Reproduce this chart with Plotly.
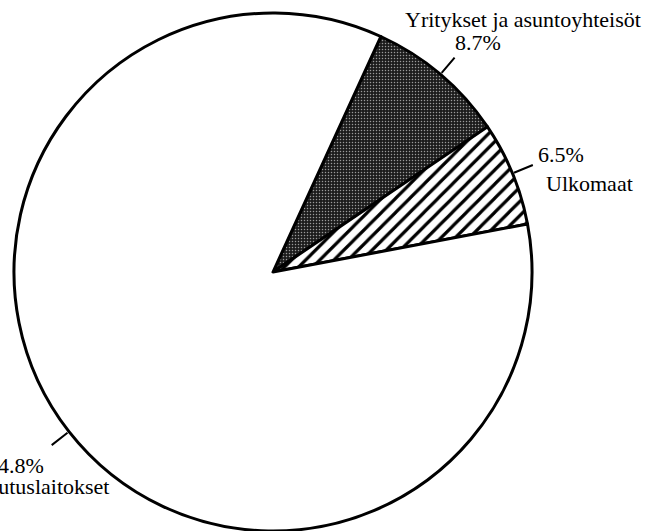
"""
Rahoitus sektoreittain - piirakkakaavio
"""
import math
import plotly.graph_objects as go

# Sektorit ja osuudet (%)
labels = ['Yritykset ja asuntoyhteisöt', 'Ulkomaat', 'Vakuutuslaitokset']
values = [8.7, 6.5, 84.8]

W, H = 654, 531
FONT = dict(family='Liberation Serif', size=22, color='black')

# piirakan paikka pikseleinä (keskipiste ja säde)
CX, CY, R = 273, 272, 259
ROT = 24.6


def px(x, y):
    """pikselit -> paper-koordinaatit"""
    return x / W, 1 - y / H


fig = go.Figure()

fig.add_trace(go.Pie(
    labels=labels,
    values=values,
    sort=False,
    direction='clockwise',
    rotation=ROT,
    textinfo='none',
    hoverinfo='label+percent',
    marker=dict(
        colors=['#2a2a2a', 'white', 'white'],
        line=dict(color='black', width=3),
        pattern=dict(
            shape=['.', '/', ''],
            bgcolor=['#1c1c1c', 'white', 'white'],
            fgcolor=['#9a9a9a', 'black', 'black'],
            size=[3, 10, 8],
            solidity=[0.2, 0.32, 0.3],
            fillmode='replace',
        ),
    ),
    domain=dict(x=[(CX - R) / W, (CX + R) / W],
                y=[1 - (CY + R) / H, 1 - (CY - R) / H]),
    showlegend=False,
))

# osoitinviivat viipaleiden keskikulmiin
total = sum(values)
start = ROT
mids = []
for v in values:
    ang = start + 360 * v / total / 2
    mids.append(ang)
    start += 360 * v / total

for ang in mids:
    a = math.radians(ang)
    x0, y0 = CX + R * math.sin(a), CY - R * math.cos(a)
    x1, y1 = CX + (R + 22) * math.sin(a), CY - (R + 22) * math.cos(a)
    ex, ey = px(x1, y1)
    fig.add_annotation(
        x=ex, y=ey, xref='paper', yref='paper',
        ax=x0 - x1, ay=y0 - y1, axref='pixel', ayref='pixel',
        text='', showarrow=True, arrowhead=0, arrowwidth=2, arrowcolor='black',
    )

# tekstit: (teksti, x, y keskikohta, ankkuri)
pct = [f"{v}%" for v in values]
texts = [
    (labels[0], 523, 19, 'center'),
    (pct[0], 478, 43, 'center'),
    (pct[1], 561, 155, 'center'),
    (labels[1], 589, 183, 'center'),
    (pct[2], 46, 465, 'right'),
    (labels[2], 111, 486, 'right'),
]
for t, x, y, anc in texts:
    xx, yy = px(x, y)
    fig.add_annotation(
        x=xx, y=yy, xref='paper', yref='paper',
        text=t, showarrow=False, xanchor=anc, yanchor='middle',
        font=FONT,
    )

fig.update_layout(
    width=W,
    height=H,
    margin=dict(l=0, r=0, t=0, b=0),
    paper_bgcolor='white',
    plot_bgcolor='white',
)

fig.write_html("out.html", config={'displayModeBar': False},
               post_script="document.body.style.margin='0';")
